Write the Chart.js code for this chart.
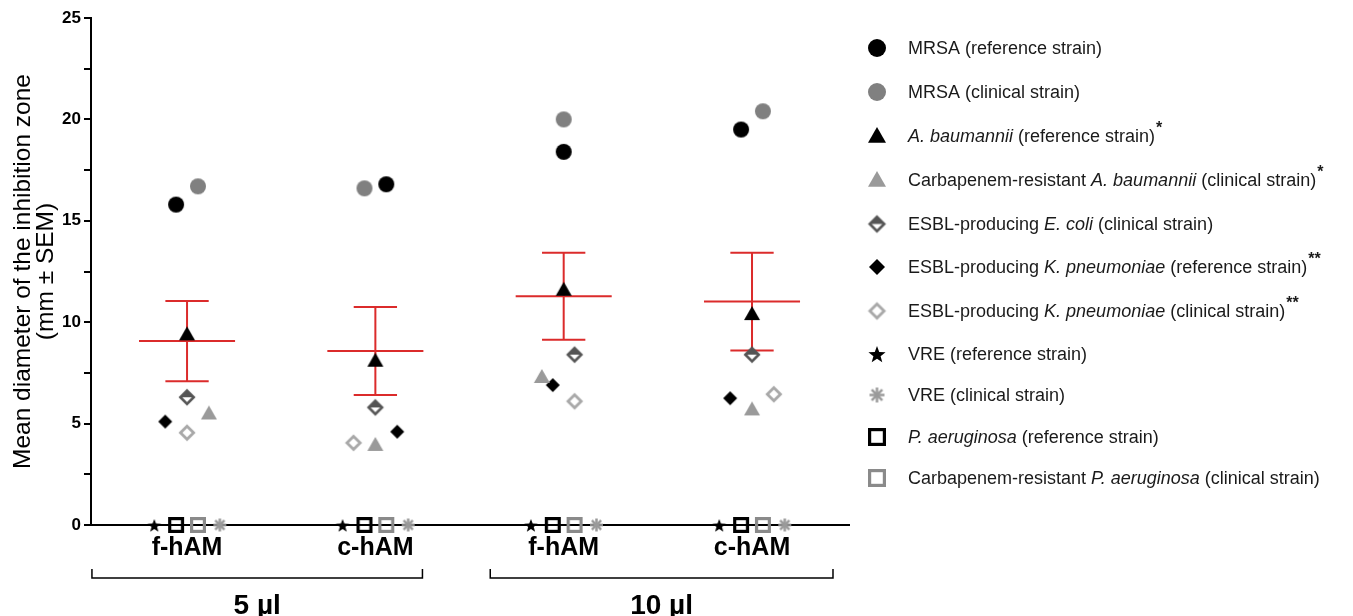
<!DOCTYPE html>
<html>
<head>
<meta charset="utf-8">
<script src="https://cdn.jsdelivr.net/npm/chart.js@4.4.1/dist/chart.umd.min.js"></script>
<style>
    html, body { margin: 0; padding: 0; background: #fff; }
</style>
</head>
<body>
<canvas id="zoneChart" width="1353" height="616"></canvas>
<script>
// group labels along the x axis and the dose brackets under them
const groupLabels = ['f-hAM', 'c-hAM', 'f-hAM', 'c-hAM'];
const doseLabels = ['5 µl', '10 µl'];

// inhibition zone diameters (mm), one value per group
const mrsaRef    = [15.8, 16.8, 18.4, 19.5];
const mrsaClin   = [16.7, 16.6, 20.0, 20.4];
const abauRef    = [9.4, 8.1, 11.6, 10.4];
const abauClin   = [5.5, 3.95, 7.3, 5.7];
const ecoliClin  = [6.3, 5.8, 8.4, 8.4];
const kpnRef     = [5.1, 4.6, 6.9, 6.25];
const kpnClin    = [4.55, 4.05, 6.1, 6.45];
const vreRef     = [0, 0, 0, 0];
const vreClin    = [0, 0, 0, 0];
const paerRef    = [0, 0, 0, 0];
const paerClin   = [0, 0, 0, 0];

// mean and SEM per group (red bars)
const meanVals = [9.07, 8.58, 11.28, 11.02];
const semVals  = [1.98, 2.17, 2.15, 2.41];

// scatter spread (GraphPad style), in slots left/right of the group centre
const mrsaRefJit  = [-1, 1, 0, -1];
const mrsaClinJit = [1, -1, 0, 1];
const abauRefJit  = [0, 0, 0, 0];
const abauClinJit = [2, 0, -2, 0];
const ecoliJit    = [0, 0, 1, 0];
const kpnRefJit   = [-2, 2, -1, -2];
const kpnClinJit  = [0, -2, 1, 2];
const vreRefJit   = [-3, -3, -3, -3];
const paerRefJit  = [-1, -1, -1, -1];
const paerClinJit = [1, 1, 1, 1];
const vreClinJit  = [3, 3, 3, 3];

const yTicks = [0, 5, 10, 15, 20, 25];

const legendText = [
    [['MRSA (reference strain)', 'n']],
    [['MRSA (clinical strain)', 'n']],
    [['A. baumannii', 'i'], [' (reference strain)', 'n'], ['*', 's']],
    [['Carbapenem-resistant ', 'n'], ['A. baumannii', 'i'], [' (clinical strain)', 'n'], ['*', 's']],
    [['ESBL-producing ', 'n'], ['E. coli', 'i'], [' (clinical strain)', 'n']],
    [['ESBL-producing ', 'n'], ['K. pneumoniae', 'i'], [' (reference strain)', 'n'], ['**', 's']],
    [['ESBL-producing ', 'n'], ['K. pneumoniae', 'i'], [' (clinical strain)', 'n'], ['**', 's']],
    [['VRE (reference strain)', 'n']],
    [['VRE (clinical strain)', 'n']],
    [['P. aeruginosa', 'i'], [' (reference strain)', 'n']],
    [['Carbapenem-resistant ', 'n'], ['P. aeruginosa', 'i'], [' (clinical strain)', 'n']]
];

const FONT = "'Liberation Sans', Arial, sans-serif";
const jitterStep = 0.058;
const barRed = '#db2b2b';
const legendRows = [48, 92, 136, 180, 224, 267, 311, 354, 395, 437, 478];

// small canvases used as point styles (and in the legend)
function makeMarker(shape, color, size, lw) {
    const pad = 3;
    const c = document.createElement('canvas');
    c.width = c.height = size + pad * 2;
    const g = c.getContext('2d');
    const m = c.width / 2;
    const r = size / 2;
    g.fillStyle = color;
    g.strokeStyle = color;
    g.lineWidth = lw || 2;
    g.lineJoin = 'miter';
    if (shape === 'circle') {
        g.beginPath(); g.arc(m, m, r, 0, Math.PI * 2); g.fill();
    } else if (shape === 'triangle') {
        g.beginPath();
        g.moveTo(m, m - r);
        g.lineTo(m + r, m + r * 0.75);
        g.lineTo(m - r, m + r * 0.75);
        g.closePath(); g.fill();
    } else if (shape === 'diamond') {
        g.beginPath();
        g.moveTo(m, m - r); g.lineTo(m + r, m); g.lineTo(m, m + r); g.lineTo(m - r, m);
        g.closePath(); g.fill();
    } else if (shape === 'openDiamond' || shape === 'halfDiamond') {
        const q = r - g.lineWidth / 2;
        g.beginPath();
        g.moveTo(m, m - q); g.lineTo(m + q, m); g.lineTo(m, m + q); g.lineTo(m - q, m);
        g.closePath();
        g.fillStyle = '#fff'; g.fill();
        if (shape === 'halfDiamond') {
            g.beginPath();
            g.moveTo(m, m - q); g.lineTo(m + q, m); g.lineTo(m - q, m);
            g.closePath();
            g.fillStyle = color; g.fill();
            g.beginPath();
            g.moveTo(m, m - q); g.lineTo(m + q, m); g.lineTo(m, m + q); g.lineTo(m - q, m);
            g.closePath();
        }
        g.stroke();
    } else if (shape === 'star') {
        g.beginPath();
        for (let k = 0; k < 10; k++) {
            const rr = k % 2 === 0 ? r : r * 0.42;
            const a = -Math.PI / 2 + k * Math.PI / 5;
            const px = m + rr * Math.cos(a), py = m + 1 + rr * Math.sin(a);
            if (k === 0) g.moveTo(px, py); else g.lineTo(px, py);
        }
        g.closePath(); g.fill();
    } else if (shape === 'asterisk') {
        g.lineCap = 'butt';
        for (let k = 0; k < 4; k++) {
            const a = k * Math.PI / 4;
            g.beginPath();
            g.moveTo(m - r * Math.cos(a), m - r * Math.sin(a));
            g.lineTo(m + r * Math.cos(a), m + r * Math.sin(a));
            g.stroke();
        }
    } else if (shape === 'openSquare') {
        const q = r - g.lineWidth / 2;
        g.strokeRect(m - q, m - q, q * 2, q * 2);
    }
    return c;
}

// [shape, colour, plot size, legend size, line width]
const series = [
    { values: mrsaRef,   jit: mrsaRefJit,  mk: ['circle', '#000', 16, 18] },
    { values: mrsaClin,  jit: mrsaClinJit, mk: ['circle', '#808080', 16, 18] },
    { values: abauRef,   jit: abauRefJit,  mk: ['triangle', '#000', 16, 18] },
    { values: abauClin,  jit: abauClinJit, mk: ['triangle', '#9a9a9a', 16, 18] },
    { values: ecoliClin, jit: ecoliJit,    mk: ['halfDiamond', '#555', 16, 17, 2.6] },
    { values: kpnRef,    jit: kpnRefJit,   mk: ['diamond', '#000', 14, 16] },
    { values: kpnClin,   jit: kpnClinJit,  mk: ['openDiamond', '#a8a8a8', 16, 17, 2.8] },
    { values: vreRef,    jit: vreRefJit,   mk: ['star', '#000', 14, 18] },
    { values: vreClin,   jit: vreClinJit,  mk: ['asterisk', '#9a9a9a', 13, 15, 2.5] },
    { values: paerRef,   jit: paerRefJit,  mk: ['openSquare', '#000', 16, 18, 3.2] },
    { values: paerClin,  jit: paerClinJit, mk: ['openSquare', '#8a8a8a', 16, 18, 3.2] }
];
series.forEach(s => {
    const [shape, color, plotSize, legSize, lw] = s.mk;
    s.marker = makeMarker(shape, color, plotSize, lw);
    s.legendMarker = makeMarker(shape, color, legSize, lw);
});

// mean line with SEM whiskers, under the points
const errorBars = {
    id: 'errorBars',
    beforeDatasetsDraw(chart) {
        const xs = chart.scales.x, ys = chart.scales.y, ctx = chart.ctx;
        ctx.save();
        ctx.strokeStyle = barRed;
        ctx.lineWidth = 2;
        meanVals.forEach((mean, i) => {
            const cx = xs.getPixelForValue(i + 1);
            const halfMean = xs.getPixelForValue(i + 1 + 0.255) - cx;
            const halfCap = xs.getPixelForValue(i + 1 + 0.115) - cx;
            const yM = ys.getPixelForValue(mean);
            const yT = ys.getPixelForValue(mean + semVals[i]);
            const yB = ys.getPixelForValue(mean - semVals[i]);
            ctx.beginPath();
            ctx.moveTo(cx - halfMean, yM); ctx.lineTo(cx + halfMean, yM);
            ctx.moveTo(cx, yT); ctx.lineTo(cx, yB);
            ctx.moveTo(cx - halfCap, yT); ctx.lineTo(cx + halfCap, yT);
            ctx.moveTo(cx - halfCap, yB); ctx.lineTo(cx + halfCap, yB);
            ctx.stroke();
        });
        ctx.restore();
    }
};

// dose brackets under the group labels
const doseBrackets = {
    id: 'doseBrackets',
    afterDraw(chart) {
        const xs = chart.scales.x, ctx = chart.ctx;
        const spans = [[0.495, 2.25], [2.61, 4.43]];
        const yLine = 578;
        ctx.save();
        ctx.strokeStyle = '#000';
        ctx.lineWidth = 1.5;
        ctx.fillStyle = '#000';
        ctx.font = 'bold 28px ' + FONT;
        ctx.textAlign = 'center';
        ctx.textBaseline = 'alphabetic';
        spans.forEach((s, i) => {
            const x0 = xs.getPixelForValue(s[0]), x1 = xs.getPixelForValue(s[1]);
            ctx.beginPath();
            ctx.moveTo(x0, yLine - 9); ctx.lineTo(x0, yLine);
            ctx.lineTo(x1, yLine); ctx.lineTo(x1, yLine - 9);
            ctx.stroke();
            ctx.fillText(doseLabels[i], (x0 + x1) / 2, 614);
        });
        ctx.restore();
    }
};

// legend with italic species names and superscript asterisks
const richLegend = {
    id: 'richLegend',
    afterDraw(chart) {
        const ctx = chart.ctx;
        ctx.save();
        ctx.textBaseline = 'middle';
        ctx.fillStyle = '#1a1a1a';
        series.forEach((s, i) => {
            const y = legendRows[i];
            const mk = s.legendMarker;
            ctx.drawImage(mk, 877 - mk.width / 2, y - mk.height / 2);
            let x = 908;
            legendText[i].forEach(([t, st]) => {
                if (st === 's') {
                    ctx.font = 'bold 16px ' + FONT;
                    ctx.fillText(t, x + 1, y - 7);
                } else {
                    ctx.font = (st === 'i' ? 'italic ' : '') + '18px ' + FONT;
                    ctx.fillText(t, x, y + 1);
                }
                x += ctx.measureText(t).width;
            });
        });
        ctx.restore();
    }
};

new Chart(document.getElementById('zoneChart'), {
    type: 'scatter',
    data: {
        datasets: series.map(s => ({
            data: s.values.map((v, i) => ({ x: i + 1 + s.jit[i] * jitterStep, y: v })),
            pointStyle: s.marker,
            pointRadius: 7,
            showLine: false,
            clip: false
        }))
    },
    options: {
        responsive: false,
        animation: false,
        devicePixelRatio: 1,
        layout: { padding: { top: 18, right: 504, left: 0, bottom: 0 } },
        plugins: { legend: { display: false }, tooltip: { enabled: false } },
        scales: {
            x: {
                type: 'linear',
                min: 0.49,
                max: 4.515,
                afterFit: s => { s.height = 91; },
                afterBuildTicks: s => { s.ticks = groupLabels.map((_, i) => ({ value: i + 1 })); },
                ticks: {
                    callback: (v) => groupLabels[v - 1] || '',
                    font: { family: FONT, size: 25, weight: 'bold' },
                    color: '#000',
                    padding: 8,
                    maxRotation: 0,
                    autoSkip: false
                },
                grid: { display: true, drawOnChartArea: false, drawTicks: false },
                border: { display: true, color: '#000', width: 2 }
            },
            y: {
                min: 0,
                max: 25,
                afterFit: s => { s.width = 91; },
                afterBuildTicks: s => {
                    const t = [];
                    for (let v = 0; v <= 25; v += 2.5) t.push({ value: v });
                    s.ticks = t;
                },
                ticks: {
                    callback: v => yTicks.includes(v) ? String(v) : '',
                    font: { family: FONT, size: 17, weight: 'bold' },
                    color: '#000',
                    padding: 3
                },
                grid: { drawOnChartArea: false, tickLength: 7, color: '#000', lineWidth: 2 },
                border: { display: true, color: '#000', width: 2 },
                title: {
                    display: true,
                    text: ['Mean diameter of the inhibition zone', '(mm ± SEM)'],
                    font: { family: FONT, size: 24.5, lineHeight: 0.94 },
                    color: '#000',
                    padding: { top: 12, bottom: 0 }
                }
            }
        }
    },
    plugins: [errorBars, doseBrackets, richLegend]
});
</script>
</body>
</html>
